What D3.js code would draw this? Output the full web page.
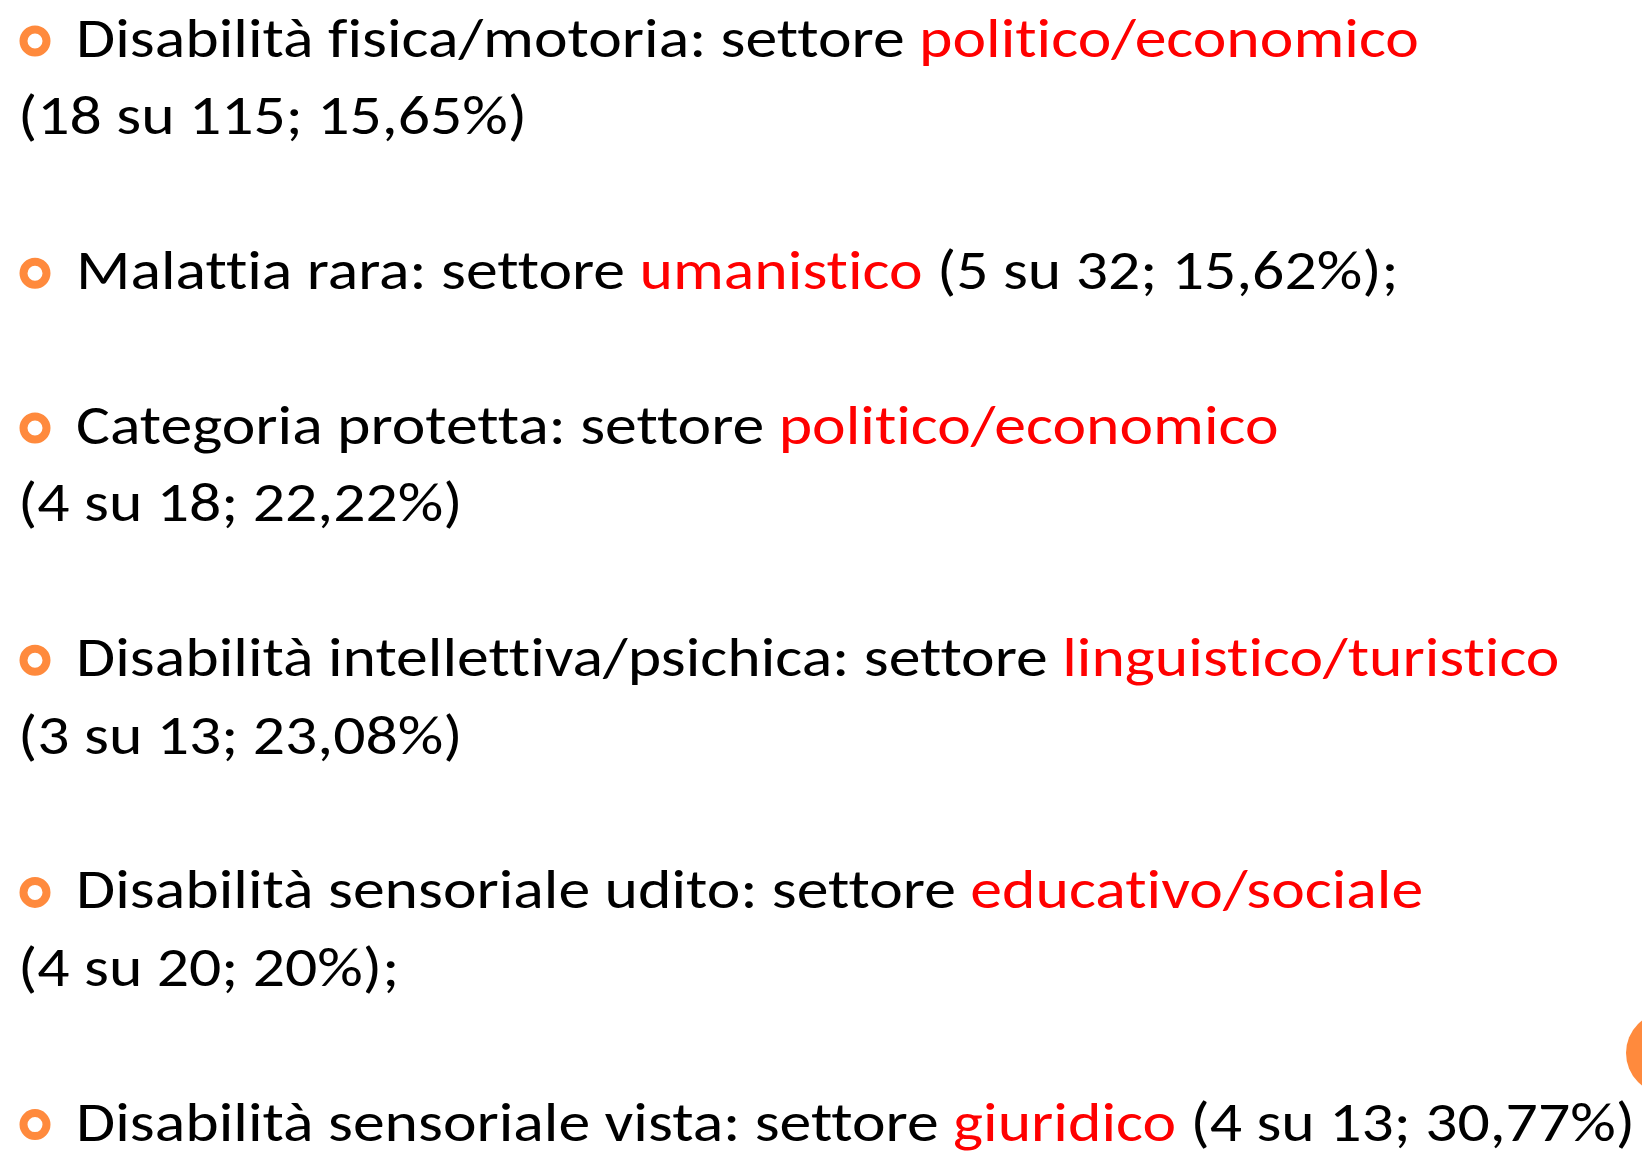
<!DOCTYPE html>
<html>
<head>
<meta charset="utf-8">
<script src="https://cdn.jsdelivr.net/npm/d3@7"></script>
<style>
  html, body { margin: 0; padding: 0; background: #fff; }
  svg { display: block; }
  text { font-variant-ligatures: none; font-feature-settings: "liga" 0, "clig" 0; }
</style>
</head>
<body>
<div id="slide"></div>
<script>
// data
const categories = [
  "Disabilità fisica/motoria",
  "Malattia rara",
  "Categoria protetta",
  "Disabilità intellettiva/psichica",
  "Disabilità sensoriale udito",
  "Disabilità sensoriale vista"
];
const sectors = [
  "politico/economico",
  "umanistico",
  "politico/economico",
  "linguistico/turistico",
  "educativo/sociale",
  "giuridico"
];
const counts = [18, 5, 4, 3, 4, 4];
const totals = [115, 32, 18, 13, 20, 13];
const percentLabels = ["15,65%", "15,62%", "22,22%", "23,08%", "20%", "30,77%"];
const endings = ["", ";", "", "", ";", ""];
// does the "(x su y; z%)" part go on its own line
const wrapDetail = [true, false, true, true, true, false];

const width = 1642;
const height = 1151;
const fontSize = 55;
const lineGap = 77.4;
const firstBaseline = 57;
const bulletX = 35;
const textX = 76;
const contX = 18;
const targetWidth = 1343; // width of the first line in the slide

const svg = d3.select("#slide").append("svg")
  .attr("width", width)
  .attr("height", height);

// build line list: each item = bullet line (+ optional continuation) + empty line
const lines = [];
let row = 0;
categories.forEach((c, i) => {
  const detail = "(" + counts[i] + " su " + totals[i] + "; " + percentLabels[i] + ")" + endings[i];
  if (wrapDetail[i]) {
    lines.push({ row: row, bullet: true, parts: [[c + ": settore ", "#000"], [sectors[i], "#ff0000"]] });
    lines.push({ row: row + 1, bullet: false, parts: [[detail, "#000"]] });
    row += 3;
  } else {
    lines.push({ row: row, bullet: true, parts: [[c + ": settore ", "#000"], [sectors[i], "#ff0000"], [" " + detail, "#000"]] });
    row += 2;
  }
});

const y = d3.scaleLinear()
  .domain([0, 14])
  .range([firstBaseline, firstBaseline + 14 * lineGap]);

// decorative orange circle cut by the right edge
svg.append("circle")
  .attr("cx", 1667)
  .attr("cy", 1053)
  .attr("r", 41)
  .attr("fill", "#ff8a3d");

svg.selectAll("circle.bullet")
  .data(lines.filter(d => d.bullet))
  .enter().append("circle")
  .attr("class", "bullet")
  .attr("cx", bulletX)
  .attr("cy", d => y(d.row) - 16)
  .attr("r", 11.5)
  .attr("fill", "none")
  .attr("stroke", "#ff8a3d")
  .attr("stroke-width", 8);

const texts = svg.selectAll("text.line")
  .data(lines)
  .enter().append("text")
  .attr("class", "line")
  .attr("font-family", "Carlito, Calibri, Lato, 'Open Sans', sans-serif")
  .attr("font-size", fontSize)
  .attr("xml:space", "preserve")
  .style("white-space", "pre");

texts.selectAll("tspan")
  .data(d => d.parts)
  .enter().append("tspan")
  .attr("fill", p => p[1])
  .text(p => p[0]);

// squeeze horizontally so the widths follow the narrow original face
const natural = texts.filter((d, i) => i === 0).node().getComputedTextLength();
const k = targetWidth / natural;

texts.attr("transform", d =>
  `translate(${d.bullet ? textX : contX},${y(d.row)}) scale(${k},1)`);
</script>
</body>
</html>
